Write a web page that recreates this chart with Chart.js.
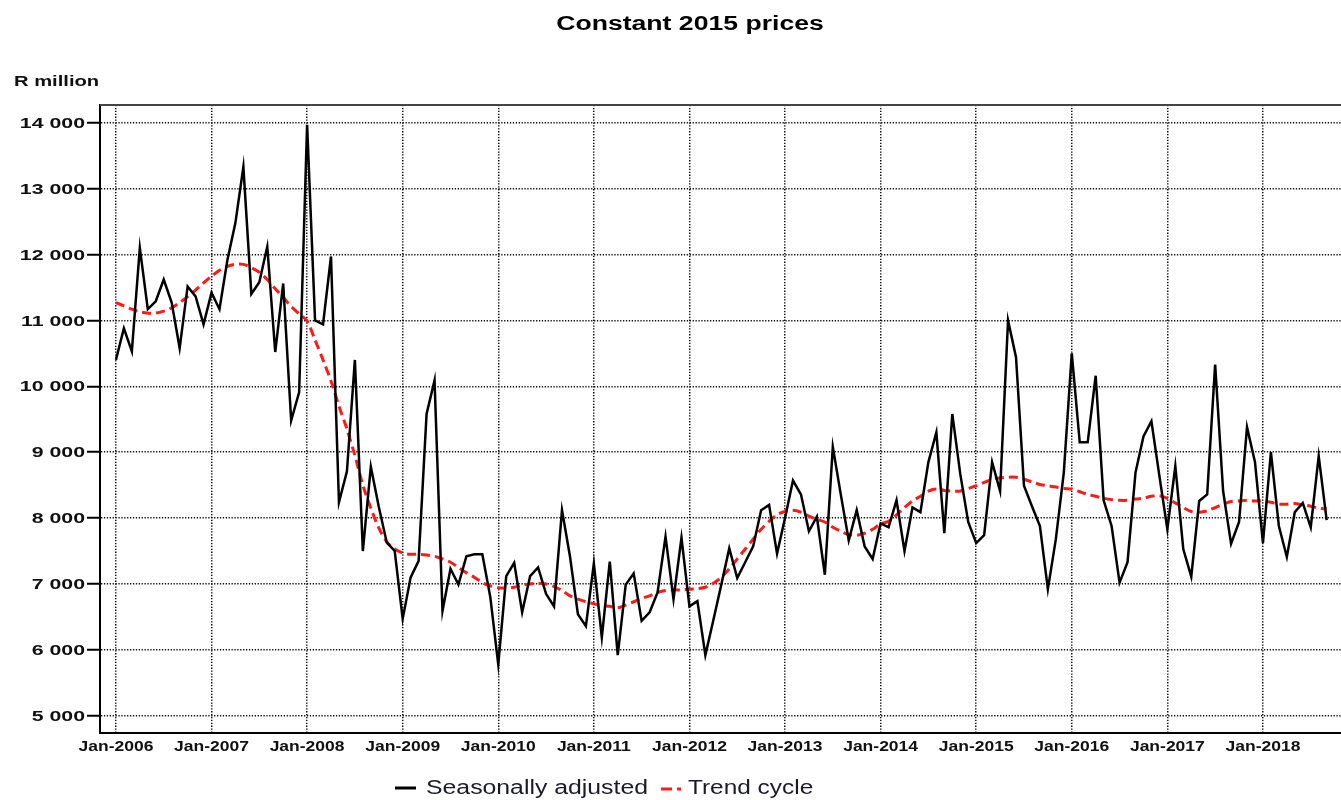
<!DOCTYPE html>
<html>
<head>
<meta charset="utf-8">
<title>Constant 2015 prices</title>
<script src="https://cdn.jsdelivr.net/npm/chart.js@4/dist/chart.umd.min.js"></script>
<style>
  html, body { margin: 0; padding: 0; background: #fff; }
  #chart { display: block; }
</style>
</head>
<body>
<canvas id="chart" width="1341" height="800"></canvas>
<script>
// Monthly values, Jan-2006 .. Sep-2018 (R million, constant 2015 prices)
const seasAdj = [
  10400, 10880, 10530, 12100, 11170, 11290, 11620, 11270, 10580, 11515, 11365, 10940,
  11420, 11170, 11920, 12480, 13330, 11400, 11580, 12120, 10520, 11560, 9480, 9910,
  13970, 11000, 10940, 11970, 8240, 8710, 10400, 7500, 8780, 8170, 7630, 7500,
  6470, 7100, 7350, 9580, 10090, 6590, 7230, 6990, 7420, 7450, 7450, 6800,
  5780, 7120, 7320, 6570, 7120, 7250, 6850, 6660, 8120, 7420, 6540, 6360,
  7310, 6190, 7340, 5920, 6990, 7160, 6440, 6570, 6870, 7720, 6770, 7700,
  6660, 6740, 5920, 6450, 6990, 7540, 7090, 7330, 7570, 8120, 8200, 7460,
  8000, 8570, 8360, 7800, 8020, 7140, 9080, 8360, 7660, 8120, 7570, 7380,
  7920, 7860, 8270, 7500, 8160, 8090, 8850, 9300, 7770, 9580, 8670, 7940,
  7620, 7740, 8850, 8410, 11000, 10440, 8490, 8180, 7880, 6920, 7680, 8690,
  10500, 9150, 9150, 10160, 8270, 7880, 7020, 7330, 8690, 9240, 9470, 8640,
  7830, 8790, 7530, 7110, 8260, 8360, 10330, 8410, 7610, 7940, 9380, 8850,
  7620, 9000, 7880, 7410, 8090, 8230, 7860, 8940, 7970
];
const trendCycle = [
  11270, 11220, 11170, 11130, 11110, 11110, 11140, 11190, 11270, 11360, 11460, 11570,
  11670, 11760, 11820, 11850, 11850, 11800, 11730, 11620, 11480, 11350, 11210, 11100,
  10990, 10700, 10400, 10080, 9700, 9350, 8950, 8500, 8150, 7850, 7640, 7530,
  7470, 7450, 7450, 7440, 7420, 7380, 7330, 7250, 7170, 7100, 7020, 6970,
  6940, 6940, 6950, 6980, 7000, 7010, 7000, 6960, 6900, 6820, 6770, 6730,
  6700, 6670, 6660, 6640, 6680, 6730, 6780, 6820, 6870, 6900, 6910, 6910,
  6920, 6930, 6950, 7010, 7100, 7230, 7380, 7530, 7680, 7830, 7950, 8050,
  8100, 8120, 8090, 8030, 7980, 7940, 7860, 7800, 7750, 7740, 7770, 7830,
  7910, 7950, 8050, 8160, 8260, 8330, 8410, 8440, 8420, 8410, 8410, 8450,
  8490, 8540, 8590, 8610, 8620, 8620, 8590, 8550, 8510, 8490, 8470, 8450,
  8440, 8400, 8360, 8330, 8300, 8280, 8270, 8270, 8290, 8300, 8330, 8340,
  8300, 8230, 8160, 8100, 8090, 8110, 8160, 8210, 8250, 8260, 8270, 8260,
  8260, 8240, 8210, 8210, 8220, 8200, 8180, 8150, 8140
];
const xTickLabels = ['Jan-2006', 'Jan-2007', 'Jan-2008', 'Jan-2009', 'Jan-2010', 'Jan-2011', 'Jan-2012',
  'Jan-2013', 'Jan-2014', 'Jan-2015', 'Jan-2016', 'Jan-2017', 'Jan-2018'];
const yTickValues = [5000, 6000, 7000, 8000, 9000, 10000, 11000, 12000, 13000, 14000];

const fmt = (v) => String(v).replace(/\B(?=(\d{3})+(?!\d))/g, ' ');

// text in the source is wide, so draw it squeezed out horizontally
function wideText(ctx, text, x, y, font, sx, align, color) {
  ctx.save();
  ctx.font = font;
  ctx.fillStyle = color || '#111';
  ctx.textBaseline = 'middle';
  ctx.textAlign = align || 'left';
  ctx.translate(x, y);
  ctx.scale(sx, 1);
  ctx.fillText(text, 0, 0);
  ctx.restore();
}

const textPlugin = {
  id: 'texts',
  afterDraw(chart) {
    const ctx = chart.ctx;
    const area = chart.chartArea;
    const xs = chart.scales.x;
    const ys = chart.scales.y;

    // top frame line
    ctx.save();
    ctx.strokeStyle = '#444';
    ctx.lineWidth = 2;
    ctx.beginPath();
    ctx.moveTo(area.left, area.top);
    ctx.lineTo(area.right, area.top);
    ctx.stroke();
    ctx.restore();

    wideText(ctx, 'Constant 2015 prices', 690, 24, 'bold 20px "Liberation Sans", Arial, sans-serif', 1.33, 'center', '#000');
    wideText(ctx, 'R million', 14, 82, 'bold 14px "Liberation Sans", Arial, sans-serif', 1.44, 'left', '#111');

    yTickValues.forEach((v) => {
      wideText(ctx, fmt(v), 85, ys.getPixelForValue(v) + 1, 'bold 15px "Liberation Sans", Arial, sans-serif', 1.42, 'right');
    });
    xTickLabels.forEach((lab, i) => {
      wideText(ctx, lab, xs.getPixelForValue(i * 12), 747, 'bold 14px "Liberation Sans", Arial, sans-serif', 1.25, 'center');
    });

    // legend
    const ly = 788;
    ctx.save();
    ctx.lineWidth = 3;
    ctx.strokeStyle = '#000';
    ctx.beginPath(); ctx.moveTo(395, ly); ctx.lineTo(416, ly); ctx.stroke();
    ctx.strokeStyle = '#ff1a1a';
    ctx.beginPath(); ctx.moveTo(661, ly + 1); ctx.lineTo(672, ly + 1); ctx.stroke();
    ctx.beginPath(); ctx.moveTo(677, ly + 1); ctx.lineTo(681, ly + 1); ctx.stroke();
    ctx.restore();
    wideText(ctx, 'Seasonally adjusted', 426, ly, '20px "Liberation Sans", Arial, sans-serif', 1.24, 'left', '#1a1a2a');
    wideText(ctx, 'Trend cycle', 688, ly, '20px "Liberation Sans", Arial, sans-serif', 1.22, 'left', '#1a1a2a');
  }
};

(function () {
  const ctx = document.getElementById('chart').getContext('2d');

  new Chart(ctx, {
    type: 'line',
    data: {
      datasets: [
        {
          label: 'Seasonally adjusted',
          data: seasAdj.map((v, i) => ({ x: i, y: v })),
          borderColor: '#000',
          borderWidth: 2.5,
          pointRadius: 0,
          tension: 0,
        },
        {
          label: 'Trend cycle',
          data: trendCycle.map((v, i) => ({ x: i, y: v })),
          borderColor: '#ff1a1a',
          borderWidth: 3,
          borderDash: [9, 5],
          pointRadius: 0,
          tension: 0.3,
        },
      ],
    },
    options: {
      responsive: false,
      animation: false,
      layout: { padding: { top: 105, left: 0, right: 0, bottom: 0 } },
      plugins: {
        legend: { display: false },
        title: { display: false },
        tooltip: { enabled: false },
      },
      scales: {
        x: {
          type: 'linear',
          min: -2,
          max: 153.8,
          afterBuildTicks: (s) => { s.ticks = xTickLabels.map((_, i) => ({ value: i * 12 })); },
          afterFit: (s) => { s.height = 67; },
          ticks: { display: false },
          grid: { color: '#111', lineWidth: 1.5, drawTicks: false },
          border: { display: true, color: '#000', width: 2, dash: [1.3, 1.6] },
        },
        y: {
          min: 4738,
          max: 14269,
          afterBuildTicks: (s) => { s.ticks = yTickValues.map((v) => ({ value: v })); },
          afterFit: (s) => { s.width = 100; },
          ticks: { display: false },
          grid: { color: '#111', lineWidth: 1.5, drawTicks: true, tickLength: 13, tickColor: '#000', tickWidth: 2, tickBorderDash: [] },
          border: { display: true, color: '#000', width: 2, dash: [1.3, 1.6] },
        },
      },
    },
    plugins: [textPlugin],
  });
})();
</script>
</body>
</html>
